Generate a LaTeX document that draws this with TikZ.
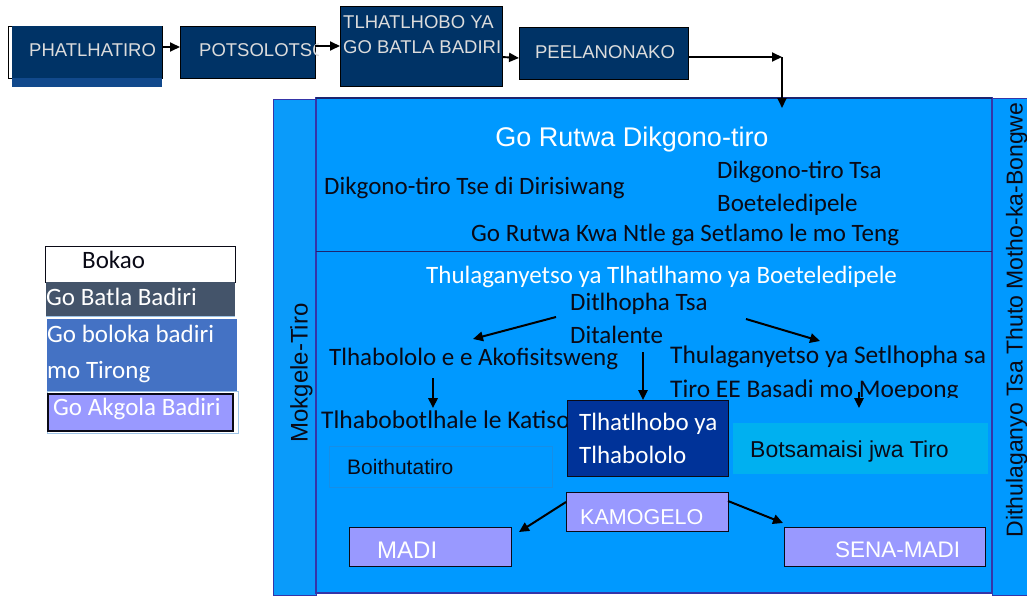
\documentclass[tikz,border=0pt]{standalone}
\usepackage{fontspec}
\setmainfont{Carlito}
\newfontfamily\arial{Liberation Sans}
\usetikzlibrary{arrows.meta}
\definecolor{topfill}{HTML}{003366}
\definecolor{topshade}{HTML}{11498C}
\definecolor{toptext}{HTML}{DCDCDC}
\definecolor{mainblue}{HTML}{0099FF}
\definecolor{stripblue}{HTML}{0A9BFA}
\definecolor{rimblue}{HTML}{3535A8}
\definecolor{darkrim}{HTML}{1C2470}
\definecolor{ink}{HTML}{0A0A16}
\definecolor{royal}{HTML}{003399}
\definecolor{cyanbox}{HTML}{00B0F0}
\definecolor{lavender}{HTML}{9999FF}
\definecolor{slate}{HTML}{44546A}
\definecolor{midblue}{HTML}{4472C4}
\definecolor{paleline}{HTML}{9DC3E6}
\definecolor{faintrim}{HTML}{168EE6}
\tikzset{
  box/.style={rectangle, inner sep=0pt, outer sep=0pt},
  topbox/.style={box, draw=black, fill=topfill, line width=0.8pt},
  toptxt/.style={font=\arial\fontsize{18.5}{20}\selectfont, text=toptext, inner sep=0pt, anchor=base west},
  cal/.style={font=\fontsize{25}{30}\selectfont, text=ink, inner sep=0pt, anchor=base west},
  calw/.style={cal, text=white},
  sans/.style={font=\arial\fontsize{#1}{#1}\selectfont, text=ink, inner sep=0pt, anchor=base west},
  topconn/.style={-{Triangle[length=10pt,width=9pt]}, line width=1.9pt, draw=black},
  conn/.style={-{Triangle[length=10pt,width=9.5pt]}, line width=2pt, draw=black},
  lilac/.style={box, draw=ink, fill=lavender, line width=1pt},
}
\begin{document}
\begin{tikzpicture}[x=1pt,y=-1pt]
\useasboundingbox[fill=white] (0,0) rectangle (1027,597);

% ---------- process chain along the top ----------
\node[box, draw=black, fill=white, line width=0.8pt, minimum width=154pt, minimum height=52pt] (p1) at (85,52) {};
\fill[topshade] (12,77.5) rectangle (161.5,87);
\fill[topfill] (12,26.4) rectangle (161.6,77.6);
\node[toptxt] (p1t) at (29,56) {PHATLHATIRO};

\node[topbox, minimum width=135pt, minimum height=52pt] (p2) at (247.5,52) {};
\begin{scope}
  \clip (180,20) rectangle (318,80);
  \node[toptxt] (p2t) at (199,56) {POTSOLOTSO};
\end{scope}

\node[topbox, minimum width=162pt, minimum height=80pt] (p3) at (421,46) {};
\node[toptxt] (p3a) at (343,28) {TLHATLHOBO YA};
\node[toptxt] (p3b) at (343,53) {GO BATLA BADIRI};

\node[topbox, minimum width=169pt, minimum height=52pt] (p4) at (603.5,53) {};
\node[toptxt, anchor=base] (p4t) at (605,58.5) {PEELANONAKO};

% ---------- legend ----------
\node[box, draw=ink, fill=white, line width=0.9pt, minimum width=190pt, minimum height=36pt] (lg1) at (140,264) {};
\node[cal] (lg1t) at (82,268) {Bokao};
\node[box, fill=slate, minimum width=189pt, minimum height=34pt] (lg2) at (140.5,299) {};
\draw[paleline, line width=0.8pt] (lg2.south west) -- (lg2.south east);
\node[calw] (lg2t) at (46,305) {Go Batla Badiri};
\node[box, fill=midblue, minimum width=190pt, minimum height=72pt] (lg3) at (142,355) {};
\node[calw] (lg3a) at (47,342) {Go boloka badiri};
\node[calw] (lg3b) at (47,378) {mo Tirong};
\node[box, draw=paleline, line width=0.6pt, minimum width=191pt, minimum height=42pt] (lg4o) at (142.5,412) {};
\node[lilac, line width=1.3pt, minimum width=185pt, minimum height=37pt] (lg4) at (140.5,412.5) {};
\node[calw] (lg4t) at (53,415) {Go Akgola Badiri};

% ---------- side strips and main panel ----------
\node[box, draw=rimblue, fill=stripblue, line width=1pt, minimum width=43pt, minimum height=496pt] (lstrip) at (294.5,347) {};
\node[sans=24, rotate=90, anchor=base] (lstript) at (307.5,373) {Mokgele-Tiro};
\node[box, draw=rimblue, fill=mainblue, line width=1pt, minimum width=40pt, minimum height=497pt] (rstrip) at (1012,346.5) {};
\node[sans=23, rotate=90, anchor=base] (rstript) at (1022.5,320) {Dithulaganyo Tsa Thuto Motho-ka-Bongwe};
\node[box, draw=rimblue, fill=mainblue, line width=1.8pt, minimum width=676pt, minimum height=495pt] (panel) at (654,345.5) {};
\draw[darkrim, line width=1.2pt] (panel.north west) -- (panel.north east);
\draw[darkrim, line width=1pt] (316,251) -- (992,251);

% connectors of the top chain
\draw[topconn] ([yshift=5pt]p1.east) -- ([yshift=5pt]p2.west);
\draw[topconn] ([yshift=6pt]p2.east) -- ([yshift=0pt]p3.west);
\draw[topconn] ([yshift=-11pt]p3.east) -- ([yshift=-5pt]p4.west);
\coordinate (bend) at (782,57);
\coordinate (drop) at (782,108);
\draw[topconn] ([yshift=-4pt]p4.east) -- (bend);
\draw[topconn] (bend) -- (drop);

% upper band
\node[font=\arial\fontsize{27}{29}\selectfont, text=white, inner sep=0pt, anchor=base] (ttl) at (632,146) {Go Rutwa Dikgono-tiro};
\node[cal] (u1) at (324,194) {Dikgono-tiro Tse di Dirisiwang};
\node[cal] (u2a) at (717,178) {Dikgono-tiro Tsa};
\node[cal] (u2b) at (717,211) {Boeteledipele};
\node[cal] (u3) at (471,241) {Go Rutwa Kwa Ntle ga Setlamo le mo Teng};

% lower band
\node[calw] (l1) at (426,283) {Thulaganyetso ya Tlhatlhamo ya Boeteledipele};
\node[cal] (l2a) at (570,310) {Ditlhopha Tsa};
\node[cal] (l2b) at (570,343) {Ditalente};
\node[cal] (l3) at (329,365) {Tlhabololo e e Akofisitsweng};
\node[cal, font=\fontsize{25.4}{30}\selectfont] (l4a) at (670,363) {Thulaganyetso ya Setlhopha sa};
\begin{scope}
  \clip (600,370) rectangle (992,397.5);
  \node[cal, font=\fontsize{25.4}{30}\selectfont] (l4b) at (670,397) {Tiro EE Basadi mo Moepong};
\end{scope}
\node[cal, font=\fontsize{25.5}{30}\selectfont] (l5) at (321,428) {Tlhabobotlhale le Katiso};

\node[box, draw=faintrim, line width=0.6pt, minimum width=223pt, minimum height=41pt] (boith) at (440.5,466.5) {};
\node[sans=21] (boitht) at (347,474) {Boithutatiro};

\node[box, draw=ink, fill=royal, line width=1pt, minimum width=161pt, minimum height=76pt] (tlh) at (647.5,438) {};
\node[calw] (tlha) at (579,430) {Tlhatlhobo ya};
\node[calw] (tlhb) at (579,463) {Tlhabololo};

\node[box, fill=cyanbox, minimum width=255pt, minimum height=51pt] (bots) at (860.5,448.5) {};
\node[sans=23] (botst) at (750,457) {Botsamaisi jwa Tiro};

\node[lilac, minimum width=162pt, minimum height=39pt] (kam) at (647,511.5) {};
\node[sans=21.5, text=white] (kamt) at (580,524) {KAMOGELO};
\node[lilac, minimum width=162pt, minimum height=39pt] (madi) at (430,546.5) {};
\node[sans=24, text=white] (madit) at (377,558) {MADI};
\node[lilac, minimum width=201pt, minimum height=39pt] (sena) at (884.5,546.5) {};
\node[sans=22.5, text=white] (senat) at (835,557) {SENA-MADI};

% connectors of the lower band
\coordinate (a1s) at (556,317);  \coordinate (a1e) at (473,339);
\coordinate (a2s) at (746,319);  \coordinate (a2e) at (820,341);
\coordinate (a3s) at (433,378);  \coordinate (a3e) at (433,408);
\coordinate (a4s) at (643,352);
\coordinate (a5s) at (859,392);  \coordinate (a5e) at (859,408);
\coordinate (a6e) at (519,532);
\coordinate (a7e) at (783,523);
\draw[conn] (a1s) -- (a1e);
\draw[conn] (a2s) -- (a2e);
\draw[conn] (a3s) -- (a3e);
\draw[conn, line width=1.6pt] (a4s) -- (a4s |- tlh.north);
\draw[conn, line width=1.4pt] (a5s) -- (a5e);
\draw[conn] ([yshift=-10pt]kam.north west) -- (a6e);
\draw[conn] ([yshift=-9pt]kam.north east) -- (a7e);
\end{tikzpicture}
\end{document}
